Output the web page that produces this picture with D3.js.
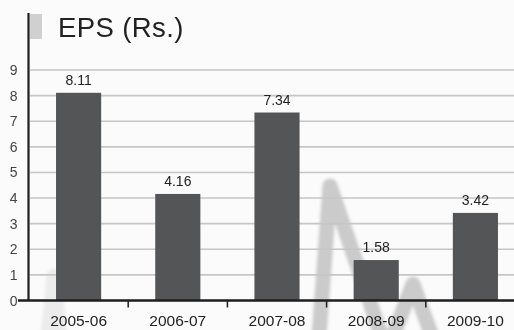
<!DOCTYPE html>
<html><head><meta charset="utf-8">
<script src="https://cdn.jsdelivr.net/npm/d3@7"></script>
<style>
html,body{margin:0;padding:0;background:#fbfbfb;}
svg{display:block;}
text{font-family:"Liberation Sans",Arial,Helvetica,sans-serif;}
</style></head>
<body>
<svg id="c" width="514" height="330"></svg>
<script>
const title = "EPS (Rs.)";
const categories = ["2005-06","2006-07","2007-08","2008-09","2009-10"];
const values = [8.11, 4.16, 7.34, 1.58, 3.42];
const valueLabels = ["8.11","4.16","7.34","1.58","3.42"];
const yTicks = [0,1,2,3,4,5,6,7,8,9];

const W = 514, H = 330;
const svg = d3.select("#c");
const defs = svg.append("defs");
defs.append("filter").attr("id","blur").attr("x","-20%").attr("y","-20%").attr("width","140%").attr("height","140%")
  .append("feGaussianBlur").attr("stdDeviation", 1.6);
svg.append("rect").attr("width", W).attr("height", H).attr("fill", "#fbfbfb");

// decorative watermark (background zigzag)
const wm = svg.append("g").attr("fill","none").attr("stroke","#cbcbcb")
  .attr("stroke-width",15).attr("stroke-linejoin","round").attr("filter","url(#blur)");
wm.append("path").attr("d","M318,350 L330,186 L387,352 L413,284 L437,350");
wm.append("path").attr("d","M47,350 L54,276 L61,350").attr("opacity",0.3);

const x = d3.scaleBand().domain(categories).range([29, 525])
  .paddingInner(0.545).paddingOuter(0.2725);
const y = d3.scaleLinear().domain([0, 9]).range([300.5, 70]);

// gridlines
svg.append("g").selectAll("line").data(yTicks.filter(d => d > 0)).join("line")
  .attr("x1", 30).attr("x2", W).attr("y1", d => y(d)).attr("y2", d => y(d))
  .attr("stroke", "#c6c6c6").attr("stroke-width", 1.6);

// y tick labels
svg.append("g").selectAll("text").data(yTicks).join("text")
  .attr("x", 17.5).attr("y", d => y(d)).attr("dy", "0.36em")
  .attr("text-anchor", "end").attr("font-size", 14).attr("fill", "#444")
  .text(d => d);

// bars
svg.append("g").selectAll("rect").data(values).join("rect")
  .attr("x", (d,i) => x(categories[i])).attr("width", x.bandwidth())
  .attr("y", d => y(d)).attr("height", d => y(0) - y(d))
  .attr("fill", "#545557");

// value labels
svg.append("g").selectAll("text").data(values).join("text")
  .attr("x", (d,i) => x(categories[i]) + x.bandwidth()/2)
  .attr("y", d => y(d) - 8)
  .attr("text-anchor", "middle").attr("font-size", 14).attr("fill", "#222")
  .text((d,i) => valueLabels[i]);

// axes lines
svg.append("line").attr("x1", 28.5).attr("x2", 28.5).attr("y1", 13).attr("y2", y(0))
  .attr("stroke", "#1e1e1e").attr("stroke-width", 2.2);
svg.append("line").attr("x1", 18).attr("x2", W).attr("y1", y(0)).attr("y2", y(0))
  .attr("stroke", "#1e1e1e").attr("stroke-width", 2.4);

// boundary ticks
const step = x.step();
svg.append("g").selectAll("line").data(categories.slice(1)).join("line")
  .attr("x1", d => x(d) - step*x.paddingInner()/2).attr("x2", d => x(d) - step*x.paddingInner()/2)
  .attr("y1", y(0)).attr("y2", y(0) + 7)
  .attr("stroke", "#1e1e1e").attr("stroke-width", 1.5);

// x labels
svg.append("g").selectAll("text").data(categories).join("text")
  .attr("x", d => x(d) + x.bandwidth()/2).attr("y", 326)
  .attr("text-anchor", "middle").attr("font-size", 15.5).attr("fill", "#222")
  .text(d => d);

// title
svg.append("rect").attr("x", 30).attr("y", 14).attr("width", 12).attr("height", 25).attr("fill", "#d0d0d0");
svg.append("text").attr("x", 58).attr("y", 37).attr("font-size", 27.5).attr("fill", "#222")
  .attr("letter-spacing", 0.4).text(title);
</script>
</body></html>
